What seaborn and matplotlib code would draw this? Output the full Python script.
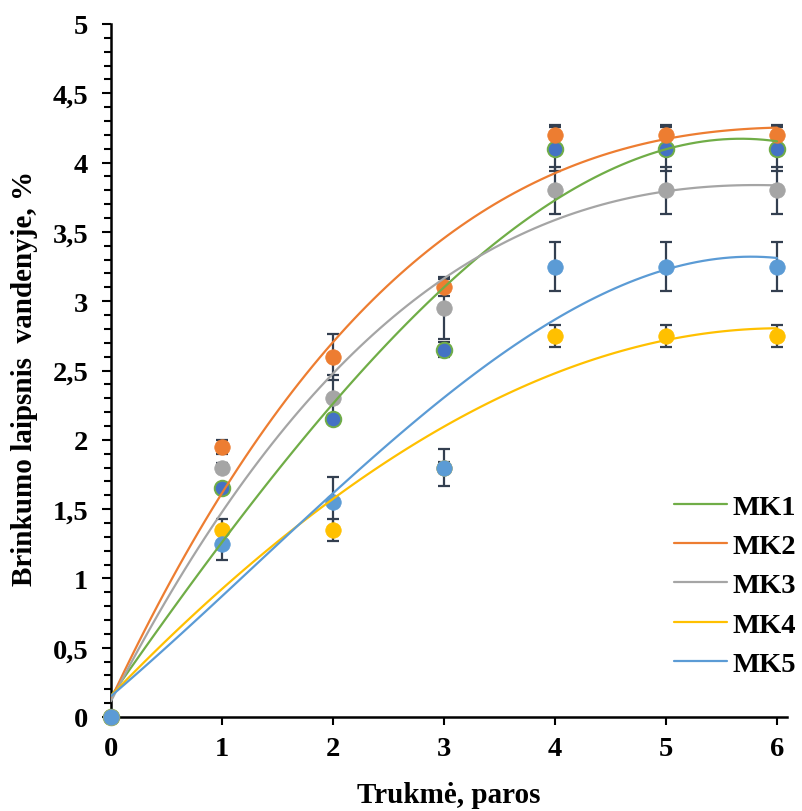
import numpy as np
import pandas as pd
import matplotlib
matplotlib.use("Agg")
import matplotlib.pyplot as plt
from matplotlib.ticker import MultipleLocator
import seaborn as sns

# ---- data ----
days = [0, 1, 2, 3, 4, 5, 6]
series_names = ["MK1", "MK2", "MK3", "MK4", "MK5"]
mk1 = [0, 1.65, 2.15, 2.65, 4.10, 4.10, 4.10]
mk2 = [0, 1.95, 2.60, 3.10, 4.20, 4.20, 4.20]
mk3 = [0, 1.80, 2.30, 2.95, 3.80, 3.80, 3.80]
mk4 = [0, 1.35, 1.35, 1.80, 2.75, 2.75, 2.75]
mk5 = [0, 1.25, 1.55, 1.80, 3.25, 3.25, 3.25]
err1 = [0, 0.03, 0.03, 0.055, 0.16, 0.16, 0.16]
err2 = [0, 0.05, 0.165, 0.06, 0.07, 0.07, 0.07]
err3 = [0, 0.03, 0.17, 0.225, 0.17, 0.17, 0.17]
err4 = [0, 0.08, 0.08, 0.04, 0.08, 0.08, 0.08]
err5 = [0, 0.115, 0.185, 0.135, 0.18, 0.18, 0.18]
y_ticks = [0, 0.5, 1, 1.5, 2, 2.5, 3, 3.5, 4, 4.5, 5]
y_tick_labels = ["0", "0,5", "1", "1,5", "2", "2,5", "3", "3,5", "4", "4,5", "5"]
x_ticks = [0, 1, 2, 3, 4, 5, 6]

values = [mk1, mk2, mk3, mk4, mk5]
errors = [err1, err2, err3, err4, err5]
line_colors = ["#70AD47", "#ED7D31", "#A5A5A5", "#FFC000", "#5B9BD5"]
face_colors = ["#4472C4", "#ED7D31", "#A5A5A5", "#FFC000", "#5B9BD5"]

rows = []
for name, vals, errs in zip(series_names, values, errors):
    for d, v, e in zip(days, vals, errs):
        rows.append({"series": name, "day": d, "value": v, "err": e})
df = pd.DataFrame(rows)

sns.set_theme(style="white")
plt.rcParams["font.family"] = ["Liberation Serif", "DejaVu Serif"]
plt.rcParams["font.weight"] = "bold"
plt.rcParams["text.color"] = "black"

fig = plt.figure(figsize=(8.02, 8.12), dpi=100)
ax = fig.add_axes([111 / 802, 1 - 718 / 812, (787 - 111) / 802, (718 - 25) / 812])

err_color = "#333F50"
# error bars (below markers)
for name in series_names:
    sub = df[df.series == name]
    ax.errorbar(sub.day, sub.value, yerr=sub.err, fmt="none", ecolor=err_color,
                elinewidth=1.6, capsize=4.2, capthick=1.6, zorder=2, clip_on=False)

# markers
for i, name in enumerate(series_names):
    sub = df[df.series == name]
    sns.scatterplot(data=sub, x="day", y="value", ax=ax, s=125,
                    color=face_colors[i],
                    edgecolor=line_colors[i], linewidth=1.4 if i == 0 else 0.5,
                    zorder=3 + i * 0.1, clip_on=False, legend=False)

# polynomial trend lines (order 3)
for i, name in enumerate(series_names):
    sub = df[df.series == name]
    sns.regplot(data=sub, x="day", y="value", ax=ax, order=3, ci=None,
                scatter=False, truncate=True, label=name,
                line_kws={"color": line_colors[i], "lw": 1.6, "zorder": 5})

ax.set_xlim(0, 6.09)
ax.set_ylim(0, 5)
ax.set_xticks(x_ticks)
ax.set_xticklabels([str(t) for t in x_ticks])
ax.set_yticks(y_ticks)
ax.set_yticklabels(y_tick_labels)
ax.yaxis.set_minor_locator(MultipleLocator(0.1))

for s in ["top", "right"]:
    ax.spines[s].set_visible(False)
for s in ["left", "bottom"]:
    ax.spines[s].set_linewidth(1.8)
    ax.spines[s].set_color("black")

ax.tick_params(axis="y", which="major", direction="out", length=6.5, width=1.5,
               pad=10, labelsize=20.5, left=True, colors="black")
ax.tick_params(axis="y", which="minor", direction="out", length=5, width=1.5,
               left=True, colors="black")
ax.tick_params(axis="x", which="major", direction="out", length=6, width=1.5,
               pad=8, labelsize=20.5, bottom=True, colors="black")
for lab in ax.get_xticklabels() + ax.get_yticklabels():
    lab.set_fontweight("bold")

ax.set_xlabel("Trukmė, paros", fontsize=21, fontweight="bold", color="black")
ax.set_ylabel("Brinkumo laipsnis  vandenyje, %", fontsize=21, fontweight="bold",
              color="black")
ax.xaxis.set_label_coords(0.5, -0.092)
ax.yaxis.set_label_coords(-0.108, 0.49)

handles, labels = ax.get_legend_handles_labels()
leg = ax.legend(handles, labels, loc="lower right", bbox_to_anchor=(0.993, 0.165),
                bbox_transform=fig.transFigure, frameon=False,
                prop={"family": "Liberation Serif", "weight": "bold", "size": 20.5},
                handlelength=1.85, handletextpad=0.2, labelspacing=0.47,
                borderpad=0, borderaxespad=0)
for t in leg.get_texts():
    t.set_color("black")
ax.grid(False)

fig.savefig("out.png", dpi=100)
